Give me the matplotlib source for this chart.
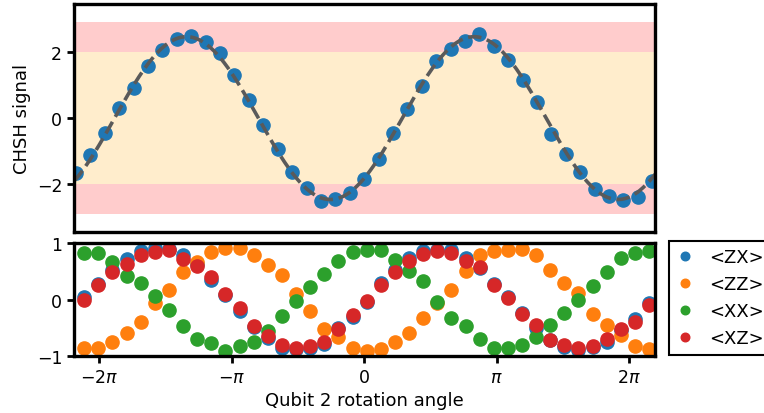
import numpy as np
import matplotlib
matplotlib.use("Agg")
import matplotlib.pyplot as plt

# measured CHSH signal (top panel)
theta_chsh = np.linspace(-2.175 * np.pi, 2.175 * np.pi, 41)
chsh = [-1.65, -1.13, -0.46, 0.30, 0.92, 1.57, 2.07, 2.38, 2.49, 2.30,
        1.97, 1.31, 0.56, -0.21, -0.94, -1.62, -2.13, -2.52, -2.44, -2.26,
        -1.86, -1.23, -0.46, 0.27, 0.98, 1.73, 2.10, 2.33, 2.53, 2.17,
        1.75, 1.14, 0.48, -0.49, -1.10, -1.63, -2.16, -2.36, -2.47, -2.38,
        -1.91]

# expectation values (bottom panel)
theta_exp = np.linspace(-2.113 * np.pi, 2.151 * np.pi, 41)
zx = [0.04, 0.27, 0.52, 0.72, 0.86, 0.92, 0.89, 0.79, 0.62, 0.35,
      0.08, -0.20, -0.49, -0.68, -0.86, -0.88, -0.86, -0.78, -0.50, -0.31,
      -0.05, 0.29, 0.53, 0.73, 0.86, 0.88, 0.88, 0.74, 0.55, 0.27,
      0.04, -0.24, -0.50, -0.72, -0.84, -0.89, -0.84, -0.75, -0.54, -0.34,
      -0.07]
zz = [-0.86, -0.85, -0.76, -0.60, -0.39, -0.06, 0.17, 0.49, 0.66, 0.84,
      0.91, 0.91, 0.79, 0.61, 0.43, 0.10, -0.20, -0.52, -0.67, -0.85,
      -0.91, -0.88, -0.76, -0.59, -0.32, -0.06, 0.16, 0.51, 0.78, 0.86,
      0.88, 0.89, 0.79, 0.53, 0.30, 0.11, -0.26, -0.45, -0.63, -0.83,
      -0.88]
xx = [0.82, 0.82, 0.66, 0.41, 0.29, 0.07, -0.19, -0.47, -0.70, -0.77,
      -0.91, -0.83, -0.75, -0.55, -0.29, -0.03, 0.23, 0.46, 0.68, 0.84,
      0.88, 0.88, 0.70, 0.51, 0.33, -0.05, -0.33, -0.47, -0.70, -0.86,
      -0.86, -0.81, -0.67, -0.45, -0.24, 0.00, 0.24, 0.48, 0.73, 0.82,
      0.85]
xz = [-0.01, 0.26, 0.48, 0.62, 0.79, 0.84, 0.88, 0.72, 0.60, 0.40,
      0.10, -0.15, -0.47, -0.64, -0.81, -0.85, -0.83, -0.75, -0.52, -0.28,
      -0.02, 0.26, 0.49, 0.69, 0.81, 0.85, 0.82, 0.68, 0.58, 0.26,
      0.02, -0.26, -0.46, -0.72, -0.81, -0.85, -0.83, -0.70, -0.53, -0.40,
      -0.10]
labels = ["<ZX>", "<ZZ>", "<XX>", "<XZ>"]
tick_pos = np.array([-2, -1, 0, 1, 2]) * np.pi
tick_lab = [r"$-2\pi$", r"$-\pi$", "0", r"$\pi$", r"$2\pi$"]

# sinusoidal fit to the CHSH signal
chsh = np.array(chsh)
best = None
for w in np.linspace(0.8, 1.1, 301):
    M = np.column_stack([np.cos(w * theta_chsh), np.sin(w * theta_chsh), np.ones_like(theta_chsh)])
    c, res, _, _ = np.linalg.lstsq(M, chsh, rcond=None)
    r = np.sum((M @ c - chsh) ** 2)
    if best is None or r < best[0]:
        best = (r, w, c)
_, w_fit, c_fit = best

xlim = (-2.19 * np.pi, 2.196 * np.pi)
tfine = np.linspace(xlim[0], xlim[1], 500)
fit = c_fit[0] * np.cos(w_fit * tfine) + c_fit[1] * np.sin(w_fit * tfine) + c_fit[2]

plt.rcParams['font.size'] = 13
fig = plt.figure(figsize=(7.64, 4.14), dpi=100)
ax1 = fig.add_axes([0.0969, 0.4372, 0.7605, 0.5507])
ax2 = fig.add_axes([0.0969, 0.1377, 0.7605, 0.2729])

ax1.axhspan(2, 2.9, color='red', alpha=0.2, lw=0)
ax1.axhspan(-2.9, -2, color='red', alpha=0.2, lw=0)
ax1.axhspan(-2, 2, color='orange', alpha=0.2, lw=0)
ax1.plot(theta_chsh, chsh, 'o', color='tab:blue', ms=9.5)
ax1.plot(tfine, fit, '--', color='#5a5a5a', lw=2.6)
ax1.set_xlim(xlim)
ax1.set_ylim(-3.45, 3.45)
ax1.set_yticks([-2, 0, 2])
ax1.set_xticks([])
ax1.set_ylabel("CHSH signal")

for vals, lab in zip([zx, zz, xx, xz], labels):
    ax2.plot(theta_exp, vals, 'o', ms=9.5, label=lab)
ax2.set_xlim(xlim)
ax2.set_ylim(-1, 1)
ax2.set_yticks([-1, 0, 1])
ax2.set_xticks(tick_pos)
ax2.set_xticklabels(tick_lab)
ax2.set_xlabel("Qubit 2 rotation angle")

for ax in (ax1, ax2):
    for s in ax.spines.values():
        s.set_linewidth(2.4)
    ax.tick_params(width=2, length=5, labelsize=12.5)

leg = ax2.legend(loc='upper left', bbox_to_anchor=(0.8757, 0.4155),
                 bbox_transform=fig.transFigure, borderaxespad=0,
                 fancybox=False, edgecolor='black', markerscale=0.65,
                 labelspacing=0.5, handlelength=1.0, framealpha=1, fontsize=13)
leg.get_frame().set_linewidth(1.5)

fig.savefig("out.png", dpi=100)
